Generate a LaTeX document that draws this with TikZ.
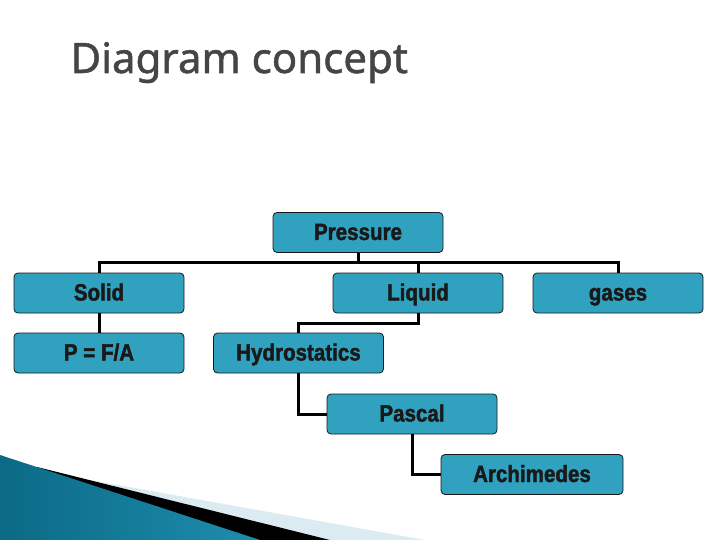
\documentclass[tikz,border=0pt]{standalone}
\usepackage{fontspec}
\usepackage{xcolor}
\usepackage{tikz}
\newfontfamily\titlefont[FakeBold=1.2]{Noto Sans}
\newfontfamily\boxfont[FakeStretch=0.875,FakeBold=1.8]{Liberation Sans Bold}

\begin{document}
\begin{tikzpicture}[x=1pt,y=-1pt]

% Colori
\definecolor{colBox}{HTML}{30A2C0}
\definecolor{colTitle}{HTML}{454545}
\definecolor{colLight}{HTML}{DCEBF1}
\definecolor{colDark}{HTML}{0B6A86}
\definecolor{colMid}{HTML}{4AB3D3}
\definecolor{colRight}{HTML}{1E8DAE}

\tikzset{
  concept/.style={draw=black!90, line width=0.8pt, fill=colBox, rounded corners=4pt,
    minimum width=170, minimum height=40, inner sep=0pt, text height=18, text depth=3,
    font=\boxfont\fontsize{23.5}{25}\selectfont, text=black!90},
  link/.style={draw=black, line width=3pt}
}

\useasboundingbox (0,0) rectangle (720,540);

% Titolo
\node[anchor=base west, font=\titlefont\fontsize{42}{45}\selectfont, text=colTitle] (title) at (67,73) {Diagram concept};

% Fascia in basso a sinistra
\fill[colLight] (90,480) -- (425,540) -- (0,540) -- cycle;
\fill[black] (37,467) -- (330,540) -- (0,540) -- cycle;
\shade[left color=colDark, middle color=colMid, right color=colRight] (0,455) -- (260,540) -- (0,540) -- cycle;

% Nodi
\node[concept] (pres) at (358,232.5) {Pressure};
\node[concept] (solid) at (99,293) {Solid};
\node[concept] (liq) at (418,293) {Liquid};
\node[concept] (gas) at (618,293) {gases};
\node[concept] (pfa) at (99,353) {P = F/A};
\node[concept] (hyd) at (298.5,353) {Hydrostatics};
\node[concept] (pas) at (412,414) {Pascal};
\node[concept, minimum width=182] (arch) at (532,474.5) {Archimedes};

% Collegamenti
\draw[link] (pres.south) -- ++(0,10) coordinate (bus);
\draw[link] (bus) -| (solid.north);
\draw[link] (bus) -| (liq.north);
\draw[link] (bus) -| (gas.north);
\draw[link] (solid.south) -- (pfa.north);
\draw[link] (liq.south) -- ++(0,10) -| (hyd.north);
\draw[link] (hyd.south) |- (pas.west);
\draw[link] (pas.south) |- (arch.west);

\end{tikzpicture}
\end{document}
